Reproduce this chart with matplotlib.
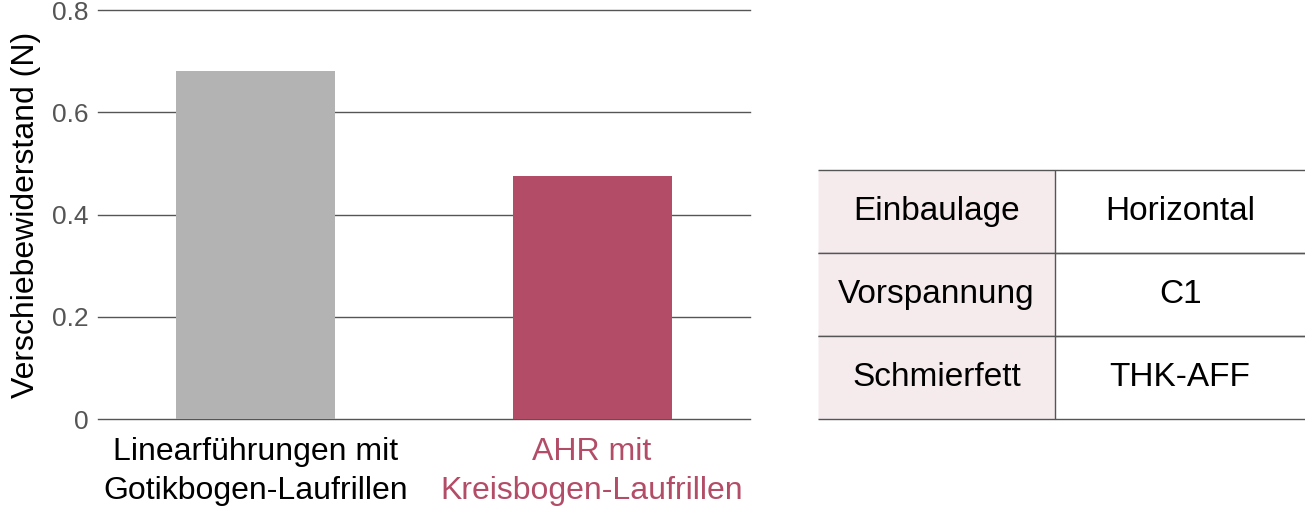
import matplotlib.pyplot as plt

plt.rcParams['font.family'] = ['Liberation Sans', 'DejaVu Sans']

# data
categories = ["Linearführungen mit\nGotikbogen-Laufrillen", "AHR mit\nKreisbogen-Laufrillen"]
values = [0.68, 0.475]
bar_colors = ["#b3b3b3", "#b34d67"]
label_colors = ["black", "#b34d67"]
y_ticks = [0, 0.2, 0.4, 0.6, 0.8]
y_ticklabels = ["0", "0.2", "0.4", "0.6", "0.8"]

table_rows = ["Einbaulage", "Vorspannung", "Schmierfett"]
table_vals = ["Horizontal", "C1", "THK-AFF"]

fig = plt.figure(figsize=(13.05, 5.14), dpi=100)
ax = fig.add_axes([0.0751, 0.1848, 0.4996, 0.7957])

x = range(len(categories))
ax.bar(x, values, width=0.473, color=bar_colors, zorder=3)
ax.set_xlim(-0.47, 1.47)
ax.set_ylim(0, 0.8)
ax.set_yticks(y_ticks)
ax.set_yticklabels(y_ticklabels, fontsize=19, color="#555555")
ax.set_xticks(list(x))
ax.set_xticklabels(categories, fontsize=23, linespacing=1.4)
for lbl, c in zip(ax.get_xticklabels(), label_colors):
    lbl.set_color(c)
ax.tick_params(length=0, pad=7)
ax.tick_params(axis='x', pad=13)
ax.grid(axis='y', color="#555555", linewidth=1, zorder=0)
for gl in ax.get_ygridlines():
    gl.set_clip_on(False)
for s in ax.spines.values():
    s.set_visible(False)
ax.set_ylabel("Verschiebewiderstand (N)", fontsize=23, labelpad=8)

# parameter table
tax = fig.add_axes([0.6268, 0.1848, 0.3732, 0.4844])
tax.axis('off')
cell_text = [[r, v] for r, v in zip(table_rows, table_vals)]
tbl = tax.table(cellText=cell_text, colWidths=[0.487, 0.513], bbox=[0, 0, 1, 1], cellLoc='center')
tbl.auto_set_font_size(False)
for (r, c), cell in tbl.get_celld().items():
    cell.set_edgecolor("#555555")
    cell.set_linewidth(1)
    cell.get_text().set_fontsize(24)
    if c == 0:
        cell.set_facecolor("#f5ebed")
        cell.visible_edges = "TBR"
    else:
        cell.visible_edges = "TB"

fig.savefig("out.png", dpi=100)
